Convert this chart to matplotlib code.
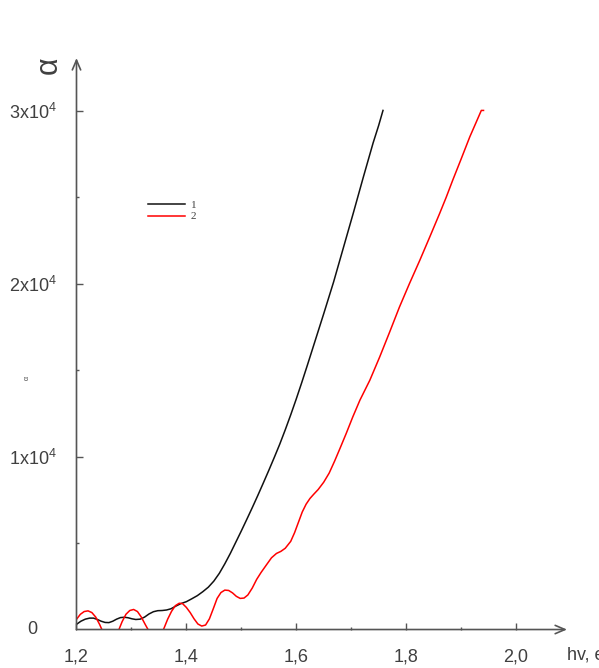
import matplotlib
matplotlib.use("Agg")
import matplotlib.pyplot as plt

plt.rcParams['font.family'] = ['Liberation Sans', 'DejaVu Sans']
plt.rcParams['mathtext.default'] = 'regular'

# curve 1 (black): photon energy, eV  /  absorption coefficient, x10^4
hv_1 = [1.200, 1.208, 1.216, 1.224, 1.231, 1.238, 1.245, 1.252, 1.259, 1.266,
        1.273, 1.280, 1.287, 1.294, 1.301, 1.308, 1.316, 1.324, 1.332, 1.340,
        1.348, 1.356, 1.364, 1.372, 1.380, 1.390, 1.400, 1.410, 1.420, 1.430,
        1.440, 1.450, 1.460, 1.470, 1.480, 1.490, 1.500, 1.510, 1.520, 1.530,
        1.540, 1.550, 1.560, 1.570, 1.580, 1.590, 1.600, 1.610, 1.620, 1.635,
        1.650, 1.668, 1.686, 1.704, 1.722, 1.740, 1.750, 1.758]
alpha_1 = [0.030, 0.048, 0.060, 0.066, 0.066, 0.058, 0.048, 0.041, 0.040, 0.048,
           0.060, 0.069, 0.071, 0.068, 0.062, 0.058, 0.060, 0.072, 0.090, 0.103,
           0.109, 0.110, 0.113, 0.120, 0.134, 0.150, 0.161, 0.178, 0.196, 0.219,
           0.245, 0.280, 0.325, 0.380, 0.440, 0.505, 0.570, 0.637, 0.705, 0.775,
           0.847, 0.920, 0.995, 1.072, 1.155, 1.242, 1.333, 1.428, 1.526, 1.676,
           1.826, 2.010, 2.210, 2.410, 2.615, 2.815, 2.915, 3.003]

# curve 2 (red)
hv_2 = [1.200, 1.207, 1.214, 1.221, 1.228, 1.235, 1.242, 1.249, 1.256, 1.262,
        1.269, 1.276, 1.283, 1.290, 1.297, 1.304, 1.311, 1.318, 1.325, 1.332,
        1.339, 1.345, 1.352, 1.359, 1.366, 1.373, 1.380, 1.387, 1.393, 1.400,
        1.407, 1.414, 1.421, 1.428, 1.435, 1.442, 1.449, 1.456, 1.463, 1.470,
        1.477, 1.484, 1.491, 1.498, 1.505, 1.512, 1.520, 1.528, 1.536, 1.546,
        1.555, 1.564, 1.572, 1.580, 1.590, 1.597, 1.604, 1.611, 1.618, 1.625,
        1.632, 1.640, 1.650, 1.660, 1.670, 1.680, 1.691, 1.703, 1.716, 1.734,
        1.752, 1.770, 1.788, 1.806, 1.825, 1.843, 1.861, 1.873, 1.885, 1.900,
        1.916, 1.927, 1.937, 1.941]
alpha_2 = [0.059, 0.088, 0.104, 0.108, 0.098, 0.072, 0.030, -0.020, -0.065, -0.085,
           -0.060, -0.010, 0.045, 0.088, 0.110, 0.116, 0.104, 0.072, 0.030, -0.010,
           -0.045, -0.055, -0.035, 0.005, 0.060, 0.105, 0.138, 0.152, 0.150, 0.128,
           0.098, 0.062, 0.032, 0.020, 0.026, 0.062, 0.120, 0.180, 0.214, 0.228,
           0.226, 0.212, 0.192, 0.180, 0.182, 0.200, 0.240, 0.290, 0.330, 0.375,
           0.415, 0.440, 0.452, 0.470, 0.510, 0.560, 0.620, 0.680, 0.725, 0.758,
           0.783, 0.810, 0.852, 0.905, 0.975, 1.050, 1.134, 1.230, 1.327, 1.442,
           1.577, 1.720, 1.866, 2.000, 2.136, 2.270, 2.406, 2.500, 2.600, 2.720,
           2.850, 2.930, 3.003, 3.003]

x_ticks = [1.2, 1.4, 1.6, 1.8, 2.0]
x_labels = ['1,2', '1,4', '1,6', '1,8', '2,0']
y_ticks = [1, 2, 3]
y_labels = ['1x10$^{4}$', '2x10$^{4}$', '3x10$^{4}$']

grey = '#404040'
axis_col = '#555555'

fig = plt.figure(figsize=(5.99, 6.68), dpi=100)
ax = fig.add_axes([0.1277, 0.0576, 0.8189, 0.8555])

ax.plot(hv_1, alpha_1, color='#111111', lw=1.1, label='1')
ax.plot(hv_2, alpha_2, color='#ff0000', lw=1.1, label='2')

ax.set_xlim(1.2, 2.093)
ax.set_ylim(0, 3.306)

for s in ['top', 'right', 'left', 'bottom']:
    ax.spines[s].set_visible(False)

# axes drawn as arrows
arr = dict(arrowstyle='->,head_length=0.7,head_width=0.3', color=axis_col, lw=1.2,
           shrinkA=0, shrinkB=0)
ax.annotate('', xy=(1, 0), xytext=(0, 0), xycoords='axes fraction', arrowprops=arr)
ax.annotate('', xy=(0, 1), xytext=(0, 0), xycoords='axes fraction', arrowprops=arr)

ax.set_xticks(x_ticks)
ax.set_xticklabels(x_labels)
ax.set_xticks([1.3, 1.5, 1.7, 1.9], minor=True)
ax.set_yticks(y_ticks)
ax.set_yticklabels(y_labels)
ax.set_yticks([0.5, 1.5, 2.5], minor=True)
ax.tick_params(which='major', direction='in', length=5, width=1, color=axis_col,
               labelsize=13, labelcolor=grey)
ax.tick_params(which='minor', direction='in', length=2.5, width=1, color=axis_col)
ax.tick_params(axis='x', which='major', pad=14)
ax.tick_params(axis='y', which='major', pad=14)

ax.text(-0.08, 0, '0', transform=ax.transAxes, ha='right', va='center',
        fontsize=13, color=grey)
ax.text(1.0, -0.045, 'hv, eV', transform=ax.transAxes, ha='left', va='center',
        fontsize=13, color=grey, clip_on=False)
ax.text(-0.056, 0.988, 'α', transform=ax.transAxes, ha='center', va='center',
        rotation=90, fontsize=22, color=grey)
ax.text(-0.1, 0.44, 'α', transform=ax.transAxes, ha='center', va='center',
        rotation=90, fontsize=5, color=grey)

ax.legend(loc='upper left', bbox_to_anchor=(0.135, 0.761), frameon=False,
          prop={'family': 'Liberation Serif', 'size': 8}, labelcolor=grey,
          handlelength=3.3, handletextpad=0.5, labelspacing=0.15, borderpad=0)

fig.savefig('out.png', dpi=100)
